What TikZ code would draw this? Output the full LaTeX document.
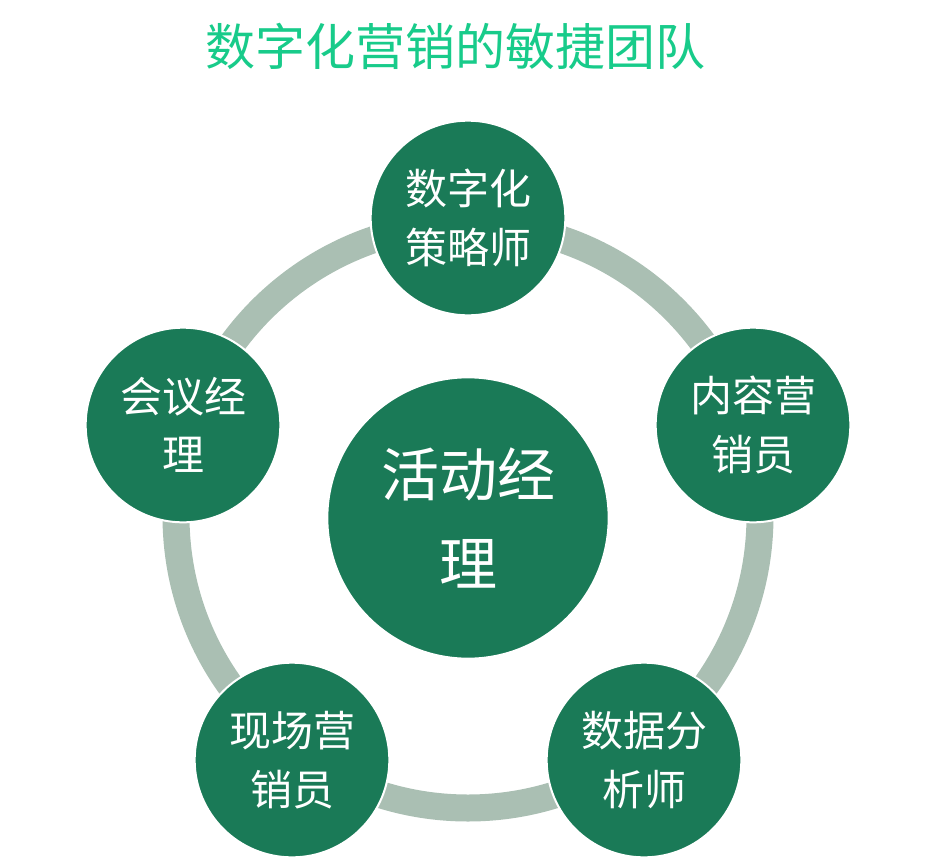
\documentclass[tikz,border=0pt]{standalone}
\usepackage{fontspec}
\setmainfont{Noto Sans CJK SC}
\definecolor{circfill}{HTML}{1A7A57}
\definecolor{ringcol}{HTML}{AABFB3}
\definecolor{titlecol}{HTML}{18CB8A}
\begin{document}
\begin{tikzpicture}[x=0.75pt,y=-0.75pt,
  role/.style={circle,fill=circfill,draw=white,line width=1.5pt,minimum size=146pt,inner sep=0pt,
    text=white,align=center,font=\fontsize{31.5}{44}\selectfont},
  hub/.style={circle,fill=circfill,draw=white,line width=1.5pt,minimum size=211pt,inner sep=0pt,
    text=white,align=center,font=\fontsize{43.5}{67}\selectfont},
  ringline/.style={draw=ringcol,line width=20.25pt},
  titletext/.style={text=titlecol,font=\fontsize{37.5}{45}\selectfont}]
\useasboundingbox (0,0) rectangle (936,864);
\node[titletext] (title) at (455,46) {数字化营销的敏捷团队};
\coordinate (ringc) at (468,516);
\draw[ringline] (ringc) circle (292);
\node[hub] (hubn) at (468,518) {活动经\\理};
\node[role] (top) at (468,218) {数字化\\策略师};
\node[role] (right) at (753,425) {内容营\\销员};
\node[role] (left) at (183,425) {会议经\\理};
\node[role] (bl) at (292,760) {现场营\\销员};
\node[role] (br) at (644,760) {数据分\\析师};
\end{tikzpicture}
\end{document}
